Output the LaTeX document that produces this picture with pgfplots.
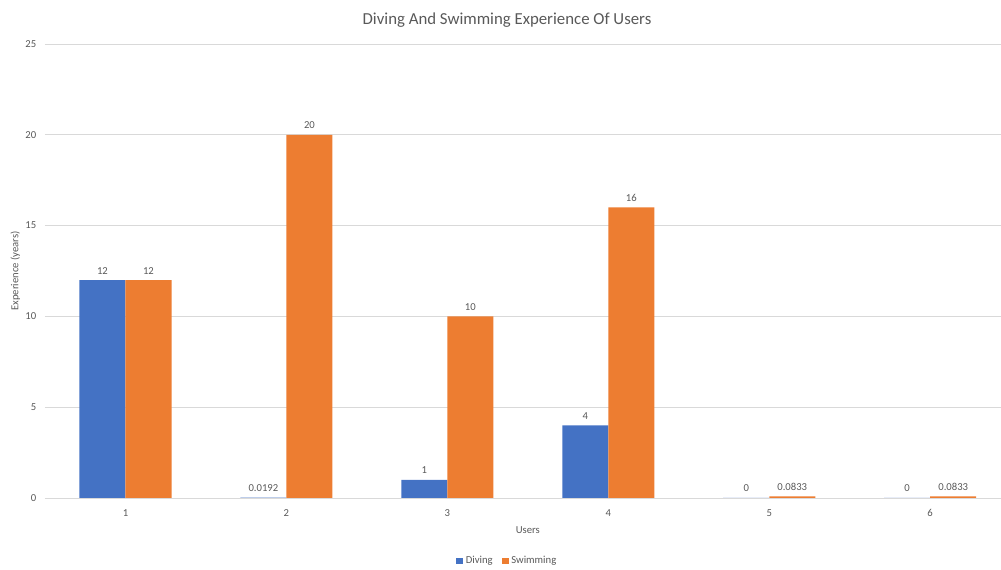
\documentclass[border=0pt]{standalone}
\usepackage{pgfplots}
\pgfplotsset{compat=1.18}
\usepackage{fontspec}
\setmainfont{Carlito}
\definecolor{cblue}{HTML}{4472C4}
\definecolor{corange}{HTML}{ED7D31}
\definecolor{cgrid}{HTML}{D9D9D9}
\definecolor{ctext}{HTML}{595959}
\begin{document}
\begin{tikzpicture}[x=0.75pt,y=0.75pt]
\useasboundingbox (0,0) rectangle (1001,570);
\begin{axis}[
  at={(45pt*0.75,72pt*0.75)}, anchor=origin,
  scale only axis,
  width=717pt, height=340.5pt,
  xmin=0.5, xmax=6.44, ymin=0, ymax=25,
  ytick={0,5,...,25},
  xtick={1,...,6},
  ybar, bar width=0.286, 
  ymajorgrids, grid style={cgrid, line width=0.6pt},
  axis line style={draw=none},
  major tick style={draw=none},
  tick label style={font=\fontsize{8}{9.6}\selectfont, text=ctext},
  /pgf/number format/assume math mode=true,
  yticklabel style={xshift=-3pt},
  xticklabel style={yshift=-1pt},
  xlabel={Users}, ylabel={Experience (years)},
  label style={font=\fontsize{8}{9.6}\selectfont, text=ctext},
  xlabel style={at={(axis description cs:0.505,-0.0705)}, anchor=center},
  ylabel style={at={(axis description cs:-0.031,0.5)}, anchor=center, rotate=0},
  point meta=explicit symbolic,
  nodes near coords,
  nodes near coords style={font=\fontsize{8}{9.6}\selectfont, text=ctext, yshift=1pt},
  legend columns=2,
  legend style={at={(axis description cs:0.484,-0.139)}, anchor=center, draw=none,
    font=\fontsize{8}{9.6}\selectfont, text=ctext,
    /tikz/every even column/.append style={column sep=5pt}},
  legend image code/.code={\fill[#1] (0pt,-2.5pt) rectangle (5pt,2.5pt);},
]
\addplot[fill=cblue, draw=none, bar shift=-0.143] coordinates {(1,12)[12] (2,0.0192)[0.0192] (3,1)[1] (4,4)[4] (5,0)[0] (6,0)[0]};
\addplot[fill=corange, draw=none, bar shift=0.143] coordinates {(1,12)[12] (2,20)[20] (3,10)[10] (4,16)[16] (5,0.0833)[0.0833] (6,0.0833)[0.0833]};
\legend{Diving, Swimming}
\end{axis}
\node[font=\fontsize{12.6}{15}\selectfont, text=ctext] at (507,550) {Diving And Swimming Experience Of Users};
\end{tikzpicture}
\end{document}
